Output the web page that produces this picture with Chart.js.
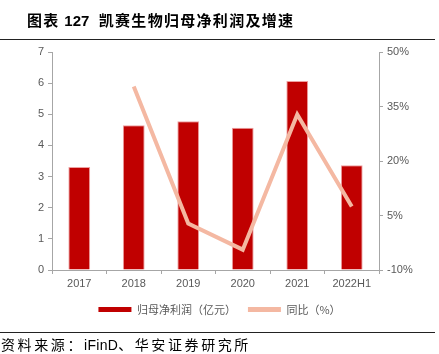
<!DOCTYPE html>
<html>
<head>
<meta charset="utf-8">
<script src="https://cdn.jsdelivr.net/npm/chart.js@4/dist/chart.umd.min.js"></script>
<style>
  html, body { margin: 0; padding: 0; background: #fff; }
  #wrap { position: relative; width: 439px; height: 354px; overflow: hidden; }
  #grafico { position: absolute; left: 0; top: 0; }
  .titulo { position: absolute; left: 27px; top: 9px; font: bold 15px "Noto Sans CJK SC", sans-serif; color: #000; white-space: nowrap; letter-spacing: 1.3px; }
  .titulo .num { font-family: "Liberation Sans", Arial, sans-serif; letter-spacing: 0; }
  .linea { position: absolute; left: 0; width: 435px; height: 1px; background: #222; }
  .fuente { position: absolute; left: 1px; top: 334px; font: 14px "Noto Sans CJK SC", sans-serif; color: #000; letter-spacing: 2.6px; white-space: nowrap; }
  .fuente .lat { font-family: "Liberation Sans", Arial, sans-serif; letter-spacing: 0.3px; }
</style>
</head>
<body>
<div id="wrap">
  <canvas id="grafico" width="439" height="354"></canvas>
  <div class="titulo">图表 <span class="num">127</span>&nbsp; 凯赛生物归母净利润及增速</div>
  <div class="linea" style="top:39px"></div>
  <div class="linea" style="top:332px"></div>
  <div class="fuente">资料来源：<span class="lat">iFinD</span>、华安证券研究所</div>
</div>
<script>
"use strict";
/* datos */
var categorias = ["2017", "2018", "2019", "2020", "2021", "2022H1"];
var beneficio = [3.31, 4.65, 4.78, 4.57, 6.07, 3.36];
var crecimiento = [null, 40.5, 2.8, -4.4, 32.8, 7.5];
var ticksIzq = [0, 1, 2, 3, 4, 5, 6, 7];
var ticksDer = [-10, 5, 20, 35, 50];

var gris = "#a6a6a6";
var textoGris = "#595959";

var ctx = document.getElementById("grafico").getContext("2d");
new Chart(ctx, {
  type: "bar",
  data: {
    labels: categorias,
    datasets: [{
      type: "bar",
      label: "归母净利润（亿元）",
      data: beneficio,
      backgroundColor: "#c00000",
      borderColor: "#eea0a0",
      borderWidth: 1,
      categoryPercentage: 1,
      barPercentage: 0.4,
      yAxisID: "y",
      order: 2
    }, {
      type: "line",
      label: "同比（%）",
      data: crecimiento,
      borderColor: "#f4b8a2",
      backgroundColor: "#f4b8a2",
      borderWidth: 4,
      pointRadius: 0,
      tension: 0,
      yAxisID: "y2",
      order: 1
    }]
  },
  options: {
    responsive: false,
    animation: false,
    layout: { padding: { top: 52, left: 0, right: 0, bottom: 29 } },
    plugins: {
      tooltip: { enabled: false },
      legend: {
        position: "bottom",
        labels: {
          boxWidth: 33,
          boxHeight: 5,
          padding: 12,
          color: textoGris,
          font: { size: 11, family: "'Noto Sans CJK SC', sans-serif" },
          generateLabels: function (chart) {
            return chart.data.datasets.map(function (ds, i) {
              return {
                text: ds.label,
                fillStyle: ds.backgroundColor,
                strokeStyle: ds.backgroundColor,
                lineWidth: 0,
                fontColor: textoGris,
                datasetIndex: i
              };
            });
          }
        }
      }
    },
    scales: {
      x: {
        grid: { display: true, drawOnChartArea: false, tickLength: 4, color: gris, offset: true },
        border: { color: gris, width: 1 },
        ticks: { color: textoGris, font: { size: 11, family: "'Liberation Sans', Arial, sans-serif" }, padding: 3 },
        afterFit: function (s) { s.height = 22; }
      },
      y: {
        position: "left",
        min: 0, max: 7,
        afterBuildTicks: function (s) { s.ticks = ticksIzq.map(function (v) { return { value: v }; }); },
        grid: { display: true, drawOnChartArea: false, tickLength: 4, color: gris },
        border: { color: gris, width: 1 },
        ticks: { color: textoGris, font: { size: 11, family: "'Liberation Sans', Arial, sans-serif" }, padding: 4 },
        afterFit: function (s) { s.width = 52; }
      },
      y2: {
        position: "right",
        min: -10, max: 50,
        afterBuildTicks: function (s) { s.ticks = ticksDer.map(function (v) { return { value: v }; }); },
        grid: { display: true, drawOnChartArea: false, tickLength: 4, color: gris },
        border: { color: gris, width: 1 },
        ticks: {
          color: textoGris,
          font: { size: 11, family: "'Liberation Sans', Arial, sans-serif" },
          padding: 4,
          callback: function (v) { return v + "%"; }
        },
        afterFit: function (s) { s.width = 60; }
      }
    }
  }
});
</script>
</body>
</html>
